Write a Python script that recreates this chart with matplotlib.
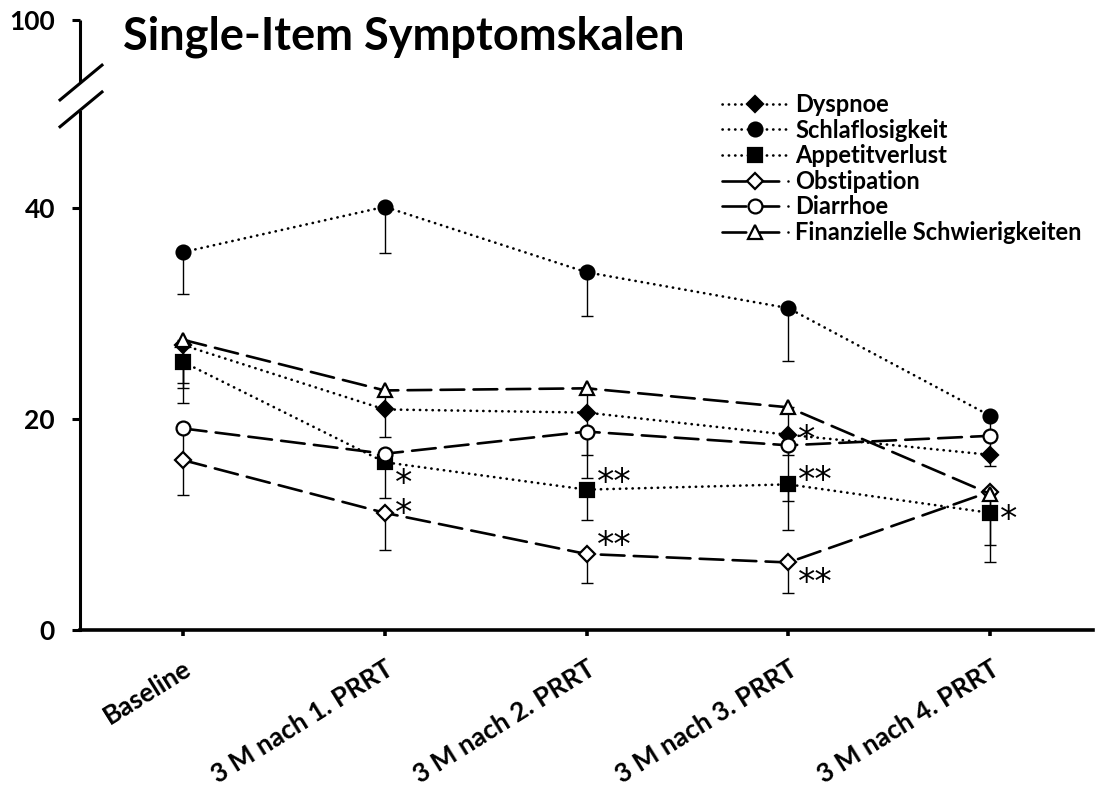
import matplotlib
matplotlib.use('Agg')
import matplotlib.pyplot as plt

plt.rcParams['font.family'] = ['Lato', 'DejaVu Sans']

# time points
categories = ['Baseline', '3 M nach 1. PRRT', '3 M nach 2. PRRT',
              '3 M nach 3. PRRT', '3 M nach 4. PRRT']

# mean scores and lower error
dyspnoe = [27.0, 20.9, 20.6, 18.5, 16.6]
dyspnoe_err = [3.6, 2.6, 4.0, 1.9, 1.1]
schlaf = [35.8, 40.1, 33.9, 30.5, 20.3]
schlaf_err = [4.0, 4.4, 4.1, 5.0, 1.9]
appetit = [25.4, 15.9, 13.3, 13.8, 11.1]
appetit_err = [3.9, 3.4, 2.9, 4.3, 4.7]
obstipation = [16.1, 11.1, 7.2, 6.4, 13.1]
obstipation_err = [3.3, 3.5, 2.7, 2.9, 5.0]
diarrhoe = [19.1, 16.7, 18.8, 17.5, 18.4]
diarrhoe_err = [3.2, 0.8, 4.4, 5.3, 1.8]
finanz = [27.5, 22.7, 22.9, 21.1, 12.9]
finanz_err = [4.6, 1.8, 2.3, 2.6, 1.8]

# significance marks: (time index, y, text)
stars = [(1, 13.2, '*\n*'),
         (2, 14.7, '**'), (2, 8.7, '**'),
         (3, 18.8, '*'), (3, 14.9, '**'), (3, 5.2, '**'),
         (4, 11.2, '*')]

dotted = (0, (0.1, 2.3))
dashed = (0, (9, 3.5))

series = [
    ('Dyspnoe', dyspnoe, dyspnoe_err, dotted, 'D', 'black', 8),
    ('Schlaflosigkeit', schlaf, schlaf_err, dotted, 'o', 'black', 10),
    ('Appetitverlust', appetit, appetit_err, dotted, 's', 'black', 9.5),
    ('Obstipation', obstipation, obstipation_err, dashed, 'D', 'white', 8),
    ('Diarrhoe', diarrhoe, diarrhoe_err, dashed, 'o', 'white', 10),
    ('Finanzielle Schwierigkeiten', finanz, finanz_err, dashed, '^', 'white', 10),
]

fig = plt.figure(figsize=(10.99, 7.90), dpi=100)
ax = fig.add_axes([80 / 1099, 160 / 790, 1013 / 1099, 610 / 790])

x = list(range(len(categories)))
for name, vals, err, ls, mk, fc, ms in series:
    ax.errorbar(x, vals, yerr=[err, [0] * len(err)], fmt='none',
                ecolor='black', elinewidth=1.0, capsize=4.5, capthick=1.0,
                zorder=2)
    ax.plot(x, vals, linestyle=ls, color='black', lw=1.9,
            dash_capstyle='round', marker=mk, markersize=ms,
            markerfacecolor=fc, markeredgecolor='black',
            markeredgewidth=1.6, label=name, zorder=3)

# DejaVu asterisks sit high in the line box, so shift them down a bit
for xi, y, s in stars:
    ax.text(xi + 0.05, y - 0.75, s, fontsize=25, family='DejaVu Sans',
            ha='left', va='center', linespacing=0.85)

top = 57.8
ax.set_xlim(-0.51, 4.51)
ax.set_ylim(0, top)
ax.set_yticks([0, 20, 40, top])
ax.set_yticklabels(['0', '20', '40', '100'])
ax.set_xticks(x)
ax.set_xticklabels(categories)

for sp in ['top', 'right']:
    ax.spines[sp].set_visible(False)
ax.spines['bottom'].set_linewidth(2.6)
ax.spines['left'].set_linewidth(2.2)
ax.spines['left'].set_bounds(0, 49.1)

# upper piece of the broken y axis and the break marks
ax.plot([0, 0], [51.9, top], color='black', lw=2.2,
        transform=ax.get_yaxis_transform(), clip_on=False,
        solid_capstyle='butt')
ax.plot([-0.0197, 0.0217], [0.869, 0.926], color='black', lw=2.2,
        transform=ax.transAxes, clip_on=False)
ax.plot([-0.0197, 0.0217], [0.825, 0.882], color='black', lw=2.2,
        transform=ax.transAxes, clip_on=False)

ax.tick_params(axis='y', direction='out', length=6, width=2.2, pad=12,
               labelsize=19)
ax.tick_params(axis='x', direction='out', length=4, width=2.6, pad=15,
               labelsize=19)
for lab in ax.get_yticklabels() + ax.get_xticklabels():
    lab.set_fontweight('bold')
plt.setp(ax.get_xticklabels(), rotation=32, ha='right',
         rotation_mode='anchor')

fig.text(123 / 1099, 1 - 16 / 790, 'Single-Item Symptomskalen',
         fontsize=32.5, fontweight='bold', ha='left', va='top')

leg = ax.legend(loc='upper left', bbox_to_anchor=(722 / 1099, 1 - 93 / 790),
                bbox_transform=fig.transFigure, frameon=False,
                handlelength=2.8, handletextpad=0.3, labelspacing=0.11,
                borderpad=0, borderaxespad=0, prop={'weight': 'bold', 'size': 17})

fig.savefig('out.png', dpi=100)
